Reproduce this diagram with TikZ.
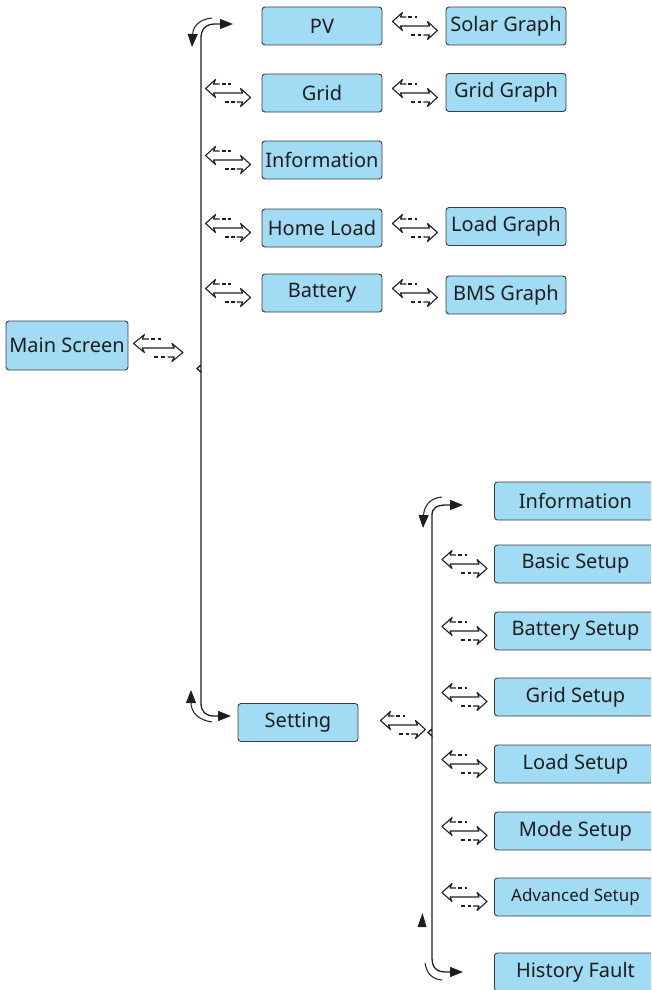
\documentclass[tikz,border=0pt]{standalone}
\usepackage{fontspec}
\setmainfont{Noto Sans}
\usetikzlibrary{arrows.meta,calc}
\definecolor{ink}{HTML}{1E1E1E}
\definecolor{frame}{HTML}{3C3C3C}
\definecolor{sky}{HTML}{A1DBF4}
\tikzset{
  box/.style={rounded corners=3pt, fill=sky, draw=frame, line width=0.9pt, text=ink,
    minimum width=120pt, minimum height=38pt, inner sep=2pt, font=\fontsize{20}{23}\selectfont},
  wide/.style={box, minimum width=162pt, anchor=west},
  wire/.style={line width=1.3pt, draw=ink},
  tipwire/.style={wire, -{Triangle[length=13pt,width=10pt]}},
  glyph/.style={line width=1.1pt, draw=ink, line join=round},
  swap/.pic={
    \draw[glyph] (14,-9) -- (8,-9) -- (10,-13.5) -- (0,-4.5) -- (10,4.5) -- (8,0) -- (37,0)
      -- (35,-4.5) -- (45,4.5) -- (35,13.5) -- (37,9) -- (31,9);
    \draw[glyph, dash pattern=on 4pt off 2.5pt] (16,-9) -- (25,-9);
    \draw[glyph, dash pattern=on 4pt off 2.5pt] (19,9) -- (29,9);
  },
}
\begin{document}
\begin{tikzpicture}[x=1pt,y=-1pt]
  \useasboundingbox (0,0) rectangle (651,990);
  \clip (0,0) rectangle (651,990);

  % main screen and first level
  \node[box, minimum width=122pt, minimum height=49pt] (main) at (67,345.5) {Main Screen};
  \node[box] (pv) at (322,26) {PV};
  \node[box] (grid) at (322,93) {Grid};
  \node[box] (info) at (322,160) {Information};
  \node[box] (home) at (322,228) {Home Load};
  \node[box] (batt) at (322,293) {Battery};
  \node[box] (setting) at (298,722.5) {Setting};

  % graphs
  \node[box] (solar) at (506,26) {Solar Graph};
  \node[box] (gridgraph) at (506,92.5) {Grid Graph};
  \node[box] (loadgraph) at (506,226.5) {Load Graph};
  \node[box] (bms) at (506,295) {BMS Graph};

  % setting menu
  \node[wide] (setinfo) at (494,501) {Information};
  \node[wide] (basic) at (494,564) {Basic Setup};
  \node[wide] (batset) at (494,631) {Battery Setup};
  \node[wide] (gridset) at (494,697) {Grid Setup};
  \node[wide] (loadset) at (494,764) {Load Setup};
  \node[wide] (modeset) at (494,831) {Mode Setup};
  \node[wide, font=\fontsize{17}{20}\selectfont] (advset) at (494,897) {Advanced Setup};
  \node[wide] (history) at (494,972) {History Fault};

  % swap marks
  \pic[xscale=1.1] at ([xshift=5pt,yshift=-2.5pt]main.east) {swap};
  \foreach \n in {grid,info,home,batt}
    \pic at ([xshift=-56pt]\n.west) {swap};
  \foreach \n in {pv,grid,home,batt}
    \pic at ([xshift=10pt]\n.east) {swap};
  \pic at ([xshift=22pt,yshift=-2.5pt]setting.east) {swap};
  \foreach \n in {basic,batset,gridset,loadset,modeset,advset}
    \pic at ([xshift=-52pt]\n.west) {swap};

  % first bracket
  \draw[tipwire] (201,365) -- (197,368.5) -- (201,372) -- (201,38)
    .. controls (201,29) and (206,24) .. (215,24) -- (233,24);
  \draw[tipwire] (201,372) -- (201,703)
    .. controls (201,712) and (206,716) .. (214,716) -- (231,716);
  \draw[tipwire, line width=1pt] (212,18) .. controls (200,19) and (193,26) .. (192,47);
  \draw[tipwire, line width=1pt] (212,722) .. controls (198,720) and (191,712) .. (191,690);

  % second bracket
  \draw[tipwire] (432,729) -- (428,732.5) -- (432,736) -- (432,515)
    .. controls (432,508) and (437,505) .. (446,505) -- (463,505);
  \draw[tipwire] (432,736) -- (432,958)
    .. controls (432,968) and (437,972) .. (446,972) -- (463,972);
  \draw[tipwire, line width=1pt] (442,497) .. controls (430,498) and (424,506) .. (423,528);
  \draw[wire, line width=1pt] (425,963) .. controls (427,974) and (432,979) .. (442,980);
  \fill[ink] (422.5,913) -- (426.5,927) -- (417.5,927) -- cycle;
\end{tikzpicture}
\end{document}
